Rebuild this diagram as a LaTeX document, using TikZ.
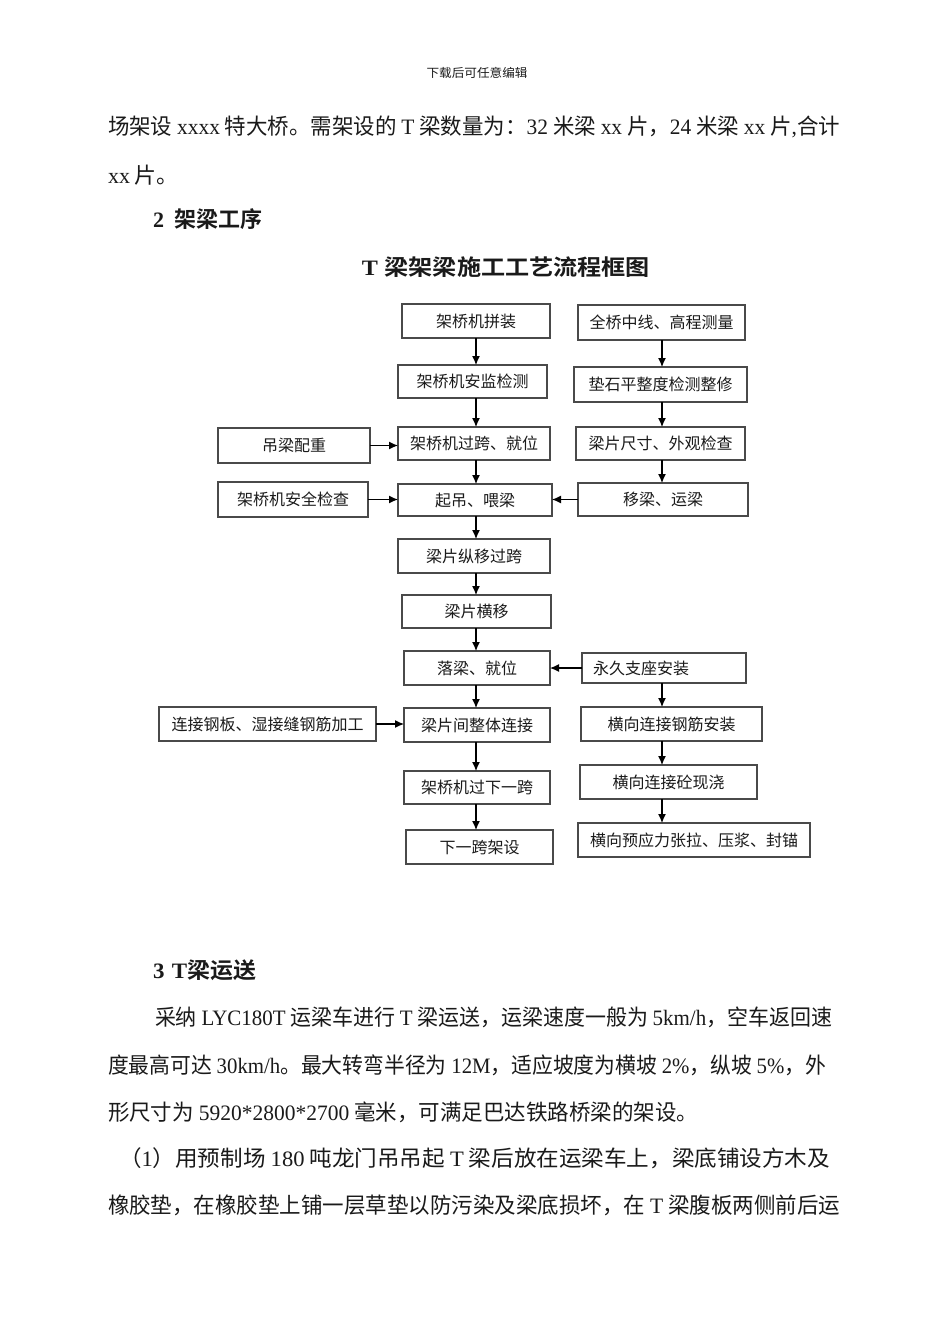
\documentclass[tikz,border=0pt]{standalone}
\usepackage{fontspec}
\usepackage{graphicx}
\setmainfont{Liberation Serif}
\newfontfamily\cjk{Noto Sans CJK SC}
\newfontfamily\cjkbold{Noto Sans CJK SC Bold}
\newfontfamily\lat{Liberation Serif}
\usetikzlibrary{arrows.meta}
\definecolor{boxline}{HTML}{4A4A4A}
\definecolor{ink}{HTML}{1A1A1A}
\newcommand\fitw[2]{\resizebox{#1pt}{\height}{#2}}
\newcommand\pbox[6]{\node[procbox, minimum width={(#4-#2)*1pt}, minimum height={(#5-#3)*1pt}] (#1) at ({(#2+#4)/2},{(#3+#5)/2}) {#6};}
\begin{document}
\begin{tikzpicture}[x=1pt,y=-1pt,
  every node/.style={inner sep=0pt, outer sep=0pt},
  procbox/.style={draw=boxline, line width=1.4pt, fill=white, text=ink,
    font=\cjk\fontsize{16}{16}\selectfont},
  bodytext/.style={anchor=west, text=ink, font=\cjk\fontsize{22}{22}\selectfont},
  headtext/.style={anchor=west, text=ink, font=\cjkbold\fontsize{22}{22}\selectfont},
  arr/.style={-{Latex[length=9pt,width=8pt]}, line width=1.2pt, draw=black}]
\fill[white] (0,0) rectangle (950,1344);
\useasboundingbox (0,0) rectangle (950,1344);

% page text
\node[text=ink, font=\cjk\fontsize{12}{12}\selectfont] (hdr) at (477,73) {\fitw{101}{下载后可任意编辑}};
\node[bodytext] (t1) at (108,127) {\fitw{732}{场架设 {\lat xxxx} 特大桥。需架设的 {\lat T} 梁数量为：{\lat 32} 米梁 {\lat xx} 片，{\lat 24} 米梁 {\lat xx} 片{\lat ,}合计}};
\node[bodytext] (t2) at (108,175) {{\lat xx} 片。};
\node[headtext] (h2) at (153,219) {\fitw{109}{{\lat\bfseries 2}\hspace{10pt}架梁工序}};

% title
\node[text=ink, font=\cjkbold\fontsize{22}{22}\selectfont] (title) at (506,267) {\fitw{288}{{\lat\bfseries T}\hspace{6pt}梁架梁施工工艺流程框图}};

% main column
\pbox{n1}{402}{304}{550}{338}{架桥机拼装}
\pbox{n2}{398}{365}{547}{398}{架桥机安监检测}
\pbox{n3}{398}{427}{550}{460}{架桥机过跨、就位}
\pbox{n4}{398}{484}{552}{516}{起吊、喂梁}
\pbox{n5}{398}{539}{550}{573}{梁片纵移过跨}
\pbox{n6}{402}{595}{551}{628}{梁片横移}
\pbox{n7}{404}{651}{550}{685}{落梁、就位}
\pbox{n8}{404}{708}{550}{742}{梁片间整体连接}
\pbox{n9}{404}{771}{550}{804}{架桥机过下一跨}
\pbox{n10}{406}{830}{553}{864}{下一跨架设}

% left side
\pbox{a1}{218}{428}{370}{463}{吊梁配重}
\pbox{a2}{218}{482}{368}{517}{架桥机安全检查}
\pbox{a3}{159}{707}{376}{741}{连接钢板、湿接缝钢筋加工}

% right side
\pbox{r1}{578}{305}{745}{340}{全桥中线、高程测量}
\pbox{r2}{574}{367}{747}{402}{垫石平整度检测整修}
\pbox{r3}{576}{427}{745}{460}{梁片尺寸、外观检查}
\pbox{r4}{578}{483}{748}{516}{移梁、运梁}
\node[procbox, minimum width=164pt, minimum height=30pt, text width=142pt, inner xsep=11pt, align=left] (r5) at (664,668) {永久支座安装};
\pbox{r6}{581}{707}{762}{741}{横向连接钢筋安装}
\pbox{r7}{580}{765}{757}{799}{横向连接砼现浇}
\pbox{r8}{578}{823}{810}{857}{横向预应力张拉、压浆、封锚}

% connectors
\coordinate (LX) at (476,0);
\coordinate (RX) at (662,0);
\foreach \a/\b in {n1/n2,n2/n3,n3/n4,n4/n5,n5/n6,n6/n7,n7/n8,n8/n9,n9/n10}
  \draw[arr] (\a.south -| LX) -- (\b.north -| LX);
\foreach \a/\b in {r1/r2,r2/r3,r3/r4,r5/r6,r6/r7,r7/r8}
  \draw[arr] (\a.south -| RX) -- (\b.north -| RX);
\draw[arr] (a1.east) -- (a1.east -| n3.west);
\draw[arr] (a2.east) -- (a2.east -| n4.west);
\draw[arr] (r4.west) -- (r4.west -| n4.east);
\draw[arr] (r5.west) -- (r5.west -| n7.east);
\draw[arr] (a3.east) -- (a3.east -| n8.west);

% section 3
\node[headtext] (h3) at (153,970) {\fitw{103}{{\lat\bfseries 3}\hspace{7pt}{\lat\bfseries T}梁运送}};
\node[bodytext] (p1) at (155,1017) {\fitw{677}{采纳 {\lat LYC180T} 运梁车进行 {\lat T} 梁运送，运梁速度一般为 {\lat 5km/h}，空车返回速}};
\node[bodytext] (p2) at (108,1065) {\fitw{718}{度最高可达 {\lat 30km/h}。最大转弯半径为 {\lat 12M}，适应坡度为横坡 {\lat 2\%}，纵坡 {\lat 5\%}，外}};
\node[bodytext] (p3) at (108,1112) {\fitw{590}{形尺寸为 {\lat 5920*2800*2700} 毫米，可满足巴达铁路桥梁的架设。}};
\node[bodytext] (p4) at (119,1158) {\fitw{711}{（{\lat 1}）用预制场 {\lat 180} 吨龙门吊吊起 {\lat T} 梁后放在运梁车上，梁底铺设方木及}};
\node[bodytext] (p5) at (108,1205) {\fitw{732}{橡胶垫，在橡胶垫上铺一层草垫以防污染及梁底损坏，在 {\lat T} 梁腹板两侧前后运}};
\end{tikzpicture}
\end{document}
